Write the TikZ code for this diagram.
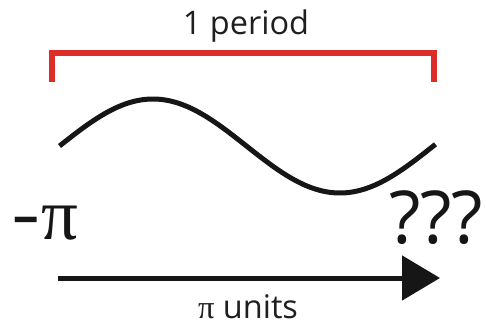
\documentclass[tikz,border=0pt]{standalone}
\usepackage{fontspec}
\setmainfont{Open Sans}
\newfontfamily\greekfont{Liberation Serif}
\definecolor{brackred}{RGB}{221, 45, 40}
\definecolor{waveblack}{RGB}{22, 22, 22}
\usetikzlibrary{arrows.meta, positioning, calc}

\begin{document}
\begin{tikzpicture}[x=1pt, y=-1pt]

  \tikzset{
    bracket-line/.style={draw=brackred, line width=5.5pt, line cap=butt},
    wave-line/.style={draw=waveblack, line width=5pt, line cap=butt},
    unit-arrow/.style={
      -{Triangle[length=38pt, width=44pt]},
      draw=waveblack, line width=5pt,
    },
    toplabel/.style={font=\fontsize{32.5}{36}\selectfont, text=black!88, anchor=base},
    endlabel/.style={font=\fontsize{73}{80}\selectfont, text=waveblack, anchor=base},
  }

  % canvas
  \useasboundingbox (0, 0) rectangle (486, 326);

  %% ---------------- PERIOD BRACKET ----------------
  \coordinate (bl) at (52, 82);
  \coordinate (bl-top) at (52, 53);
  \coordinate (br-top) at (434, 53);
  \coordinate (br) at (434, 82);
  \draw[bracket-line] (bl) -- ($(bl-top)+(0,-2.75)$) ;
  \draw[bracket-line] (br) -- ($(br-top)+(0,-2.75)$) ;
  \draw[bracket-line] ($(bl-top)+(-2.75,0)$) -- ($(br-top)+(2.75,0)$);
  \node[toplabel] (period) at (246, 35) {1 period};

  %% ---------------- SINE WAVE ----------------
  \draw[wave-line, domain=0:6.32, samples=80, smooth]
    plot ({59.5 + 59.5*\x}, {146 - 47*sin(\x r)});

  %% ---------------- END LABELS ----------------
  \node[endlabel] (start) at (45, 239) {\scalebox{1.25}[1]{-}{\greekfont π}};
  \node[endlabel] (end) at (436, 243) {???};

  %% ---------------- UNIT ARROW ----------------
  \coordinate (arr-start) at (58, 278);
  \coordinate (arr-end) at (440, 278);
  \draw[unit-arrow] (arr-start) -- (arr-end);
  \node[toplabel] (units) at (248, 318) {{\greekfont π} units};

\end{tikzpicture}
\end{document}
